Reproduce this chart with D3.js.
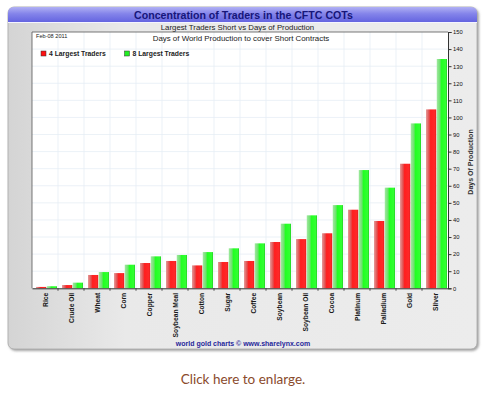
<!DOCTYPE html>
<html>
<head>
<meta charset="utf-8">
<script src="https://cdn.jsdelivr.net/npm/d3@7"></script>
<style>
  body { margin:0; background:#fff; }
  svg { display:block; font-family:"Liberation Sans", Arial, sans-serif; }
</style>
</head>
<body>
<svg id="chart"></svg>
<script>
// data
var commodities = ["Rice","Crude Oil","Wheat","Corn","Copper","Soybean Meal","Cotton","Sugar",
                   "Coffee","Soybean","Soybean Oil","Cocoa","Platinum","Palladium","Gold","Silver"];
var largest4 = [0.8,1.9,7.8,8.9,14.8,16,13.4,15.4,16,27.1,28.8,32.2,46,39.4,72.9,104.7];
var largest8 = [1.2,3.3,9.5,13.8,18.7,19.5,21.2,23.4,26.3,37.8,42.7,48.7,69.2,58.9,96.5,134.2];
var seriesNames = ["4 Largest Traders","8 Largest Traders"];
var yTicks = d3.range(0,151,10);

var screen = {width:487,height:393}
var plot = {left:32,right:448,top:32,bottom:288.3}

var svg = d3.select("#chart")
    .attr("width",screen.width)
    .attr("height",screen.height)

var defs = svg.append("defs")

var addGradient = function(id,stops,vertical)
{
    var g = defs.append("linearGradient").attr("id",id)
        .attr("x1",0).attr("y1",0)
        .attr("x2",vertical?0:1).attr("y2",vertical?1:0)
    stops.forEach(function(s){
        g.append("stop").attr("offset",s[0]).attr("stop-color",s[1])
    })
}
addGradient("panelGrad",[["0%","#d4d4d4"],["25%","#e9e9e9"],["100%","#ececec"]],false)
addGradient("titleGrad",[["0%","#b0b0f4"],["45%","#8484ea"],["100%","#6464e0"]],true)
addGradient("redGrad",[["0%","#e69a9a"],["30%","#e05050"],["45%","#ff1f1f"],["90%","#ff2a2a"],["100%","#cc1010"]],false)
addGradient("greenGrad",[["0%","#a0eaa0"],["30%","#70e070"],["45%","#22ff22"],["90%","#33ff33"],["100%","#20c020"]],false)

var shadow = defs.append("filter").attr("id","shadow")
    .attr("x","-5%").attr("y","-5%").attr("width","110%").attr("height","110%")
shadow.append("feDropShadow").attr("dx",1.5).attr("dy",1.5)
    .attr("stdDeviation",1.2).attr("flood-color","#777").attr("flood-opacity",0.7)

// outer panel
svg.append("rect")
    .attr("x",8).attr("y",7).attr("width",469).attr("height",342)
    .attr("rx",6).attr("ry",6)
    .attr("fill","url(#panelGrad)")
    .attr("stroke","#a8a8a8").attr("stroke-width",0.8)
    .attr("filter","url(#shadow)")

// title bar
svg.append("path")
    .attr("d","M8,22 L8,13 Q8,7 14,7 L471,7 Q477,7 477,13 L477,22 Z")
    .attr("fill","url(#titleGrad)")
svg.append("line")
    .attr("x1",8).attr("x2",477).attr("y1",22.5).attr("y2",22.5)
    .attr("stroke","#f4f4ff").attr("stroke-width",1)

svg.append("text")
    .text("Concentration of Traders in the CFTC COTs")
    .attr("x",243.5).attr("y",18.8)
    .attr("text-anchor","middle")
    .attr("font-size",10.6).attr("font-weight","bold")
    .attr("fill","#16167a")

svg.append("text")
    .text("Largest Traders Short vs Days of Production")
    .attr("x",237.5).attr("y",29.5)
    .attr("text-anchor","middle")
    .attr("font-size",7.8).attr("fill","#222")

// scales
var xScale = d3.scaleBand()
    .domain(commodities)
    .range([plot.left,plot.right])

var inner = d3.scaleBand()
    .domain([0,1])
    .range([4,25])
    .paddingInner(0.05)

var yScale = d3.scaleLinear()
    .domain([0,150])
    .range([plot.bottom,plot.top])

// plot area
svg.append("rect")
    .attr("x",plot.left).attr("y",plot.top)
    .attr("width",plot.right-plot.left).attr("height",plot.bottom-plot.top)
    .attr("fill","#fff")

var grid = svg.append("g").attr("stroke","#e6edf5").attr("stroke-width",0.8)
grid.selectAll(".h").data(yTicks.slice(1,-1)).enter().append("line")
    .attr("x1",plot.left).attr("x2",plot.right)
    .attr("y1",function(d){return yScale(d)}).attr("y2",function(d){return yScale(d)})
grid.selectAll(".v").data(commodities.slice(1)).enter().append("line")
    .attr("x1",function(d){return xScale(d)}).attr("x2",function(d){return xScale(d)})
    .attr("y1",plot.top).attr("y2",plot.bottom)

svg.append("path")
    .attr("d","M"+plot.left+","+plot.bottom+" L"+plot.left+","+plot.top+" L"+plot.right+","+plot.top)
    .attr("fill","none").attr("stroke","#555").attr("stroke-width",0.8)

svg.append("text")
    .text("Feb-08 2011")
    .attr("x",36).attr("y",37.5)
    .attr("font-size",5.6).attr("fill","#222")

svg.append("text")
    .text("Days of World Production to cover Short Contracts")
    .attr("x",241).attr("y",40.5)
    .attr("text-anchor","middle")
    .attr("font-size",7.9).attr("fill","#222")

// legend
var legend = svg.append("g")
var legendX = [41,124.5]
seriesNames.forEach(function(name,i){
    legend.append("rect")
        .attr("x",legendX[i]).attr("y",51).attr("width",5).attr("height",5)
        .attr("fill",i==0?"#ff1010":"#22ee22")
        .attr("stroke","#333").attr("stroke-width",0.5)
    legend.append("text")
        .text(name)
        .attr("x",legendX[i]+8).attr("y",56)
        .attr("font-size",6.8).attr("font-weight","bold").attr("fill","#222")
})

// bars
var groups = svg.append("g")
    .selectAll("g")
    .data(commodities)
    .enter()
    .append("g")
    .attr("transform",function(d){return "translate("+xScale(d)+",0)"})

groups.selectAll("rect")
    .data(function(d,i){return [largest4[i],largest8[i]]})
    .enter()
    .append("rect")
    .attr("x",function(d,j){return inner(j)})
    .attr("width",inner.bandwidth())
    .attr("y",function(d){return yScale(d)})
    .attr("height",function(d){return yScale(0)-yScale(d)})
    .attr("fill",function(d,j){return j==0?"url(#redGrad)":"url(#greenGrad)"})

// x axis
var xAxis = d3.axisBottom(xScale).tickSize(0).tickPadding(0).tickFormat("")
var xg = svg.append("g")
    .attr("transform","translate(0,"+plot.bottom+")")
    .call(xAxis)
xg.select(".domain").attr("stroke","#333").attr("stroke-width",1)
xg.selectAll(".tick").remove()
xg.selectAll(".sep").data(commodities.slice(1)).enter().append("line")
    .attr("x1",function(d){return xScale(d)}).attr("x2",function(d){return xScale(d)})
    .attr("y1",0).attr("y2",2.5).attr("stroke","#333").attr("stroke-width",0.8)
xg.selectAll(".lab").data(commodities).enter().append("text")
    .text(function(d){return d})
    .attr("transform",function(d){
        return "translate("+(xScale(d)+xScale.bandwidth()/2+2.5)+",4.5) rotate(-90)"})
    .attr("text-anchor","end")
    .attr("font-size",6.7).attr("font-weight","bold").attr("fill","#1a1a1a")

// right y axis
var yAxis = d3.axisRight(yScale).tickValues(yTicks).tickSize(3.5).tickPadding(1.5)
var yg = svg.append("g")
    .attr("transform","translate("+plot.right+",0)")
    .call(yAxis)
yg.select(".domain").attr("stroke","#333").attr("stroke-width",1)
yg.selectAll(".tick line").attr("stroke","#333")
yg.selectAll(".tick text")
    .attr("font-family","Liberation Sans, Arial, sans-serif")
    .attr("font-size",5.8).attr("fill","#111")

svg.append("text")
    .text("Days Of Production")
    .attr("transform","translate(473,162) rotate(-90)")
    .attr("text-anchor","middle")
    .attr("font-size",7).attr("font-weight","bold").attr("fill","#333")

svg.append("text")
    .text("world gold charts \u00a9 www.sharelynx.com")
    .attr("x",243).attr("y",346)
    .attr("text-anchor","middle")
    .attr("font-size",7).attr("font-weight","bold").attr("fill","#27279a")

svg.append("text")
    .text("Click here to enlarge.")
    .attr("x",243).attr("y",384)
    .attr("text-anchor","middle")
    .attr("font-family","Lato, 'Open Sans', sans-serif")
    .attr("font-size",13.5).attr("fill","#8a4a2c")
</script>
</body>
</html>
